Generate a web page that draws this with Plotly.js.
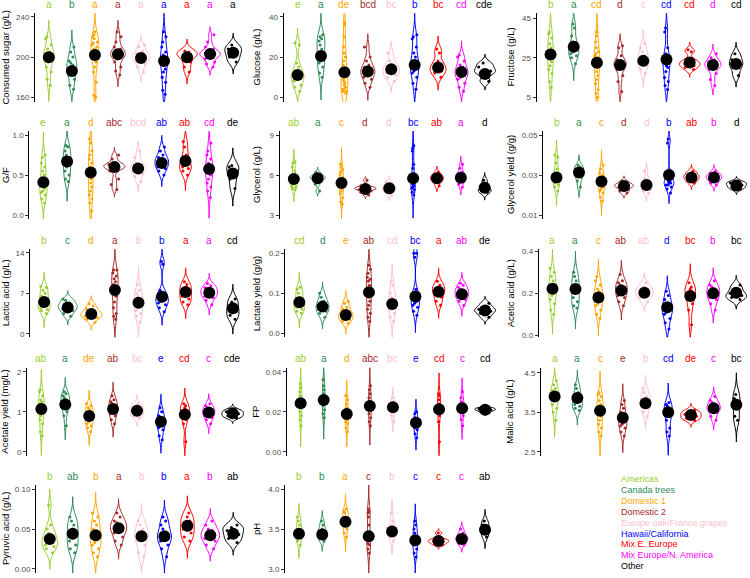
<!DOCTYPE html>
<html><head><meta charset="utf-8">
<script src="https://cdn.plot.ly/plotly-3.0.1.min.js"></script>
<style>html,body{margin:0;padding:0;background:#fff}#chart{width:750px;height:578px}</style>
</head><body><div id="chart"></div>
<script>
const groups = ['Americas','Canada trees','Domestic 1','Domestic 2','Europe oak/France grapes','Hawaii/California','Mix E. Europe','Mix Europe/N. America','Other'];
const colors = ['#9ACD32','#2E8B57','#FFA500','#A52A2A','#FFC0CB','#0000FF','#FF0000','#FF00FF','#000000'];

// ---- Consumed sugar (g/L)
const sugar = [
 [172,178,185,190,195,198,200,200,202,204,205,208,212,218,220],
 [168,172,178,182,185,188,190,192,194,196,200,205,210],
 [160,162,175,185,190,195,198,200,202,205,207,208,210,212,214,215,218,220,222,225],
 [182,186,190,195,198,200,201,202,203,204,205,206,208,210,215,220,225],
 [185,190,193,196,198,199,200,201,202,204,206,210,212],
 [163,167,175,180,185,188,192,195,197,199,200,202,205,210,215,220,225],
 [185,190,195,200,202,203,204,205,206],
 [190,193,195,198,200,201,202,203,203,204,205,206,208,210,215,222],
 [195,200,205,208,212]];
const sugarMean = [199.7,186,202,202.7,199,196,199.7,203,204.3];
const sugarLetters = ['a','b','a','a','a','a','a','a','a'];
const sugarTicks = [160,200,240], sugarTickText = ['160','200','240'];

// ---- Glucose (g/L)
const glucose = [
 [3,5,6,8,9,10,10,11,12,13,15,17,26,27],
 [10,12,15,17,18,20,22,24,26,28,29,30,31],
 [2,3,3,4,4,5,6,7,8,9,10,12,14,16,18,20,22,25,30,36,37],
 [5,7,9,10,11,12,13,13,14,15,16,18,20,25],
 [8,10,11,12,13,14,15,16,18,22],
 [4,7,10,12,13,14,15,16,17,18,20,22,25,29,30,31],
 [10,12,13,14,15,16,18,22,24],
 [3,5,7,9,10,11,12,12,13,14,15,16,18,20,21],
 [8,12,13,15,17]];
const glucoseMean = [11,20.5,12.4,12.8,13.9,16,14.8,12.5,11.5];
const glucoseLetters = ['e','a','de','bcd','bc','b','bc','cd','cde'];
const glucoseTicks = [0,20,40], glucoseTickText = ['0','20','40'];

// ---- Fructose (g/L)
const fructose = [
 [10,13,17,19,21,23,25,26,27,28,30,32,35,37,38],
 [22,25,26,27,28,29,30,31,33,36,40,42],
 [5,7,9,12,14,16,18,20,21,22,23,24,25,26,27,28,30,33,36,38],
 [8,13,16,19,20,21,22,22,23,24,26,30,31],
 [17,19,21,22,23,24,25,26,28,30,32],
 [9,11,13,15,18,20,21,22,23,24,25,27,30,38,40],
 [19,20,21,22,22,23,24,28,29],
 [11,14,17,19,20,21,21,22,22,23,24,25,27],
 [16,20,22,24,27]];
const fructoseMean = [26.6,30.5,22.4,21.3,23.4,24.1,22.6,21.3,21.8];
const fructoseLetters = ['b','a','cd','d','c','cd','cd','d','cd'];
const fructoseTicks = [5,25,45], fructoseTickText = ['5','25','45'];

// ---- G/F
const gf = [
 [0.15,0.2,0.25,0.28,0.3,0.33,0.35,0.38,0.4,0.45,0.5,0.55,0.6,0.65,0.72,0.75],
 [0.42,0.45,0.5,0.55,0.6,0.65,0.68,0.7,0.75,0.8,0.85,0.87],
 [0.05,0.15,0.2,0.25,0.3,0.35,0.4,0.45,0.5,0.5,0.55,0.6,0.65,0.7,0.75,0.8,0.9,0.95],
 [0.32,0.38,0.45,0.55,0.58,0.6,0.6,0.61,0.62,0.63,0.65,0.7,0.75],
 [0.42,0.48,0.52,0.55,0.57,0.58,0.6,0.62,0.65,0.72,0.8],
 [0.5,0.55,0.58,0.6,0.62,0.65,0.66,0.68,0.7,0.72,0.75,0.8,0.85],
 [0.5,0.55,0.58,0.6,0.62,0.65,0.7,0.75,0.85,0.92],
 [0.22,0.3,0.35,0.4,0.45,0.5,0.52,0.55,0.58,0.6,0.62,0.65,0.7,0.75,0.8,0.9],
 [0.33,0.45,0.55,0.6,0.62]];
const gfMean = [0.41,0.67,0.53,0.6,0.58,0.65,0.675,0.575,0.52];
const gfLetters = ['e','a','d','abc','bcd','ab','ab','cd','de'];
const gfTicks = [0,0.5,1], gfTickText = ['0.0','0.5','1.0'];

// ---- Glycerol (g/L)
const glycerol = [
 [4.9,5.0,5.1,5.2,5.3,5.4,5.5,5.5,5.6,5.7,5.8,6.0,6.3,6.6,6.9,7.0],
 [4.8,5.3,5.6,5.7,5.8,5.8,5.9,6.0,6.2],
 [3.8,4.0,4.3,4.6,4.8,5.0,5.1,5.2,5.3,5.4,5.5,5.6,5.8,6.0,6.2,6.4,6.6,6.8],
 [4.5,4.7,4.8,4.9,4.95,5.0,5.0,5.05,5.1,5.2,5.6],
 [4.5,4.7,4.8,4.9,5.0,5.0,5.1,5.2,5.3,5.5],
 [4.5,4.7,4.9,5.0,5.1,5.2,5.3,5.4,5.5,5.7,6.0,6.5,6.8,7.8,8.0,8.2],
 [5.2,5.5,5.6,5.7,5.8,5.9,6.0,6.2],
 [5.1,5.3,5.5,5.6,5.7,5.8,5.8,5.9,6.0,6.1,6.2,6.5,6.8],
 [4.7,4.8,4.9,5.2,5.6]];
const glycerolMean = [5.7,5.75,5.4,4.95,5.0,5.75,5.75,5.8,5.05];
const glycerolLetters = ['ab','a','c','d','d','bc','ab','a','d'];
const glycerolTicks = [3,6,9], glycerolTickText = ['3','6','9'];

// ---- Glycerol yield (g/g)
const glyYield = [
 [0.022,0.024,0.025,0.026,0.027,0.028,0.028,0.029,0.03,0.031,0.033,0.036,0.039,0.04],
 [0.024,0.027,0.029,0.03,0.031,0.032,0.033,0.034,0.035],
 [0.017,0.019,0.021,0.022,0.023,0.024,0.025,0.026,0.026,0.027,0.028,0.029,0.03,0.031,0.033,0.035],
 [0.021,0.022,0.023,0.024,0.0245,0.025,0.025,0.026,0.027],
 [0.021,0.022,0.023,0.024,0.025,0.025,0.026,0.027,0.028,0.032],
 [0.021,0.023,0.024,0.025,0.025,0.026,0.026,0.027,0.027,0.028,0.029,0.03,0.032,0.046,0.048],
 [0.026,0.027,0.028,0.029,0.029,0.03,0.031,0.032],
 [0.025,0.026,0.027,0.028,0.028,0.029,0.029,0.03,0.03,0.031,0.032],
 [0.023,0.024,0.025,0.026,0.0265]];
const glyYieldMean = [0.0288,0.0312,0.0267,0.0245,0.025,0.03,0.0288,0.0287,0.0247];
const glyYieldLetters = ['b','a','c','d','d','b','ab','b','d'];
const glyYieldTicks = [0.01,0.03,0.05], glyYieldTickText = ['0.01','0.03','0.05'];

// ---- Lactic acid (g/L)
const lactic = [
 [3.5,4,4.2,4.5,4.7,5,5.2,5.5,6,6.5,7,7.5,8,8.2],
 [3,3.5,4,4.3,4.5,4.8,5,5.3,5.8,6],
 [2,2.5,2.8,3,3.2,3.3,3.5,3.7,4,4.3,4.8,5.2],
 [2.5,3,3.5,4.5,5.5,6.5,7,7.5,8,8.5,9,9.5,10,10.5,11,11],
 [2,3,3.5,4,4.5,5,5.5,6,6.5,7,7.5,8.5],
 [3.8,4.5,5,5.3,5.6,6,6.2,6.5,7,7.5,12,12.5],
 [5,5.5,6,6.5,7,7.5,8,8.5,9],
 [5,5.8,6.2,6.5,6.8,7,7.2,7.5,7.8,8,8.3,8.7],
 [2.5,3.2,3.8,4.5,5.5,6]];
const lacticMean = [5.5,4.55,3.4,7.55,5.35,6.4,7.2,7.1,4.4];
const lacticLetters = ['b','c','d','a','b','b','a','a','cd'];
const lacticTicks = [0,7,14], lacticTickText = ['0','7','14'];

// ---- Lactate yield (g/g)
const lactYield = [
 [0.05,0.055,0.06,0.065,0.07,0.075,0.08,0.09,0.1,0.11,0.115],
 [0.04,0.05,0.055,0.06,0.065,0.07,0.075,0.08,0.09,0.1],
 [0.025,0.03,0.035,0.038,0.04,0.043,0.045,0.05,0.055,0.06,0.065,0.075,0.08],
 [0.03,0.04,0.05,0.06,0.07,0.08,0.09,0.1,0.105,0.11,0.12,0.13,0.135,0.14,0.15,0.16,0.17],
 [0.03,0.04,0.05,0.06,0.07,0.075,0.08,0.085,0.09,0.1,0.12,0.13],
 [0.045,0.055,0.065,0.07,0.075,0.08,0.085,0.09,0.095,0.1,0.11,0.19,0.2,0.2],
 [0.07,0.08,0.09,0.1,0.105,0.11,0.115,0.12,0.13],
 [0.07,0.08,0.085,0.09,0.095,0.1,0.1,0.105,0.11,0.115,0.12,0.125],
 [0.04,0.05,0.055,0.06,0.065,0.075]];
const lactYieldMean = [0.0775,0.0667,0.046,0.1025,0.073,0.092,0.104,0.0975,0.057];
const lactYieldLetters = ['cd','d','e','ab','cd','bc','a','ab','de'];
const lactYieldTicks = [0,0.1,0.2], lactYieldTickText = ['0.0','0.1','0.2'];

// ---- Acetic acid (g/L)
const acetic = [
 [0.1,0.12,0.15,0.17,0.19,0.2,0.21,0.22,0.23,0.24,0.26,0.28,0.3,0.32],
 [0.13,0.14,0.16,0.18,0.2,0.22,0.24,0.26,0.28,0.3],
 [0.08,0.1,0.12,0.14,0.15,0.16,0.17,0.18,0.19,0.2,0.21,0.22,0.24,0.26,0.28],
 [0.14,0.16,0.18,0.19,0.2,0.21,0.22,0.23,0.24,0.25,0.26,0.29],
 [0.16,0.18,0.19,0.2,0.21,0.22,0.23,0.25],
 [0.03,0.06,0.08,0.1,0.11,0.12,0.13,0.14,0.15,0.17,0.19,0.21],
 [0.05,0.12,0.15,0.18,0.2,0.21,0.22,0.23,0.25],
 [0.12,0.15,0.17,0.18,0.19,0.2,0.21,0.22,0.23,0.24,0.26],
 [0.17,0.18,0.19,0.2,0.22,0.24]];
const aceticMean = [0.222,0.22,0.18,0.213,0.203,0.133,0.187,0.2,0.203];
const aceticLetters = ['a','a','c','ab','ab','d','bc','b','bc'];
const aceticTicks = [0,0.2,0.4], aceticTickText = ['0.0','0.2','0.4'];

// ---- Acetate yield (mg/L)
const acetYield = [
 [0.4,0.5,0.7,0.8,0.9,1.0,1.05,1.1,1.15,1.2,1.25,1.3,1.4,1.5,1.55],
 [0.65,0.9,1.0,1.1,1.15,1.2,1.25,1.3,1.35,1.4,1.45,1.5],
 [0.5,0.6,0.65,0.7,0.75,0.8,0.85,0.9,0.95,1.0,1.05,1.1,1.15,1.2],
 [0.7,0.8,0.9,0.95,1.0,1.05,1.1,1.15,1.2,1.25,1.3,1.4],
 [0.85,0.9,0.95,1.0,1.05,1.1,1.15,1.2],
 [0.3,0.4,0.55,0.6,0.65,0.7,0.75,0.8,0.85,0.9,1.0,1.1],
 [0.25,0.7,0.8,0.9,1.0,1.05,1.1,1.15,1.2],
 [0.7,0.8,0.85,0.9,0.95,1.0,1.0,1.05,1.1,1.15,1.2],
 [0.85,0.9,0.95,1.0,1.05]];
const acetYieldMean = [1.067,1.18,0.89,1.067,1.025,0.75,0.93,0.98,0.96];
const acetYieldLetters = ['ab','a','de','ab','bc','e','cd','c','cde'];
const acetYieldTicks = [0,1,2], acetYieldTickText = ['0','1','2'];

// ---- FP
const fp = [
 [0.013,0.016,0.018,0.02,0.022,0.024,0.025,0.026,0.028,0.03,0.032,0.034],
 [0.017,0.019,0.021,0.023,0.025,0.027,0.029,0.031,0.033,0.036],
 [0.01,0.012,0.014,0.015,0.016,0.017,0.018,0.019,0.02,0.021,0.022,0.024,0.026,0.028],
 [0.013,0.015,0.017,0.019,0.021,0.022,0.023,0.024,0.025,0.027,0.029,0.031,0.033],
 [0.015,0.018,0.02,0.021,0.022,0.023,0.024,0.025,0.027],
 [0.007,0.009,0.011,0.012,0.013,0.014,0.015,0.016,0.017,0.019,0.02],
 [0.005,0.015,0.018,0.02,0.022,0.024,0.026,0.028,0.029],
 [0.013,0.016,0.018,0.02,0.021,0.022,0.023,0.024,0.025,0.027,0.03],
 [0.0195,0.0205,0.021,0.0215,0.022]];
const fpMean = [0.0242,0.0258,0.0188,0.0228,0.0222,0.0145,0.0212,0.0217,0.021];
const fpLetters = ['ab','a','d','abc','bc','e','cd','c','cd'];
const fpTicks = [0,0.02,0.04], fpTickText = ['0.00','0.02','0.04'];

// ---- Malic acid (g/L)
const malic = [
 [3.3,3.5,3.6,3.7,3.8,3.85,3.9,3.95,4.0,4.05,4.1,4.2,4.3],
 [3.55,3.6,3.65,3.7,3.75,3.8,3.9,4.0,4.1,4.2],
 [2.9,3.0,3.1,3.2,3.3,3.4,3.5,3.55,3.6,3.65,3.7,3.8,3.9,3.95,4.0],
 [2.9,3.0,3.1,3.15,3.2,3.25,3.3,3.35,3.4,3.5,3.6,3.7,3.8],
 [3.4,3.5,3.6,3.7,3.75,3.8,3.85,3.9,4.0,4.1],
 [2.9,3.0,3.1,3.3,3.4,3.5,3.55,3.6,3.65,3.7,3.75],
 [3.3,3.35,3.4,3.45,3.5,3.55],
 [3.3,3.4,3.5,3.55,3.6,3.6,3.65,3.7,3.75,3.8,3.9],
 [3.3,3.4,3.7,3.85,3.95]];
const malicMean = [3.9,3.86,3.54,3.36,3.73,3.5,3.43,3.6,3.69];
const malicLetters = ['a','a','c','e','b','cd','de','c','bc'];
const malicTicks = [2.5,3.5,4.5], malicTickText = ['2.5','3.5','4.5'];

// ---- Pyruvic acid (g/L)
const pyruvic = [
 [0.02,0.025,0.028,0.03,0.033,0.035,0.038,0.04,0.045,0.05,0.055,0.08],
 [0.02,0.025,0.03,0.035,0.04,0.045,0.05,0.055,0.06,0.065],
 [0.015,0.02,0.025,0.03,0.033,0.036,0.04,0.042,0.045,0.05,0.055,0.06,0.065,0.07],
 [0.03,0.035,0.04,0.045,0.048,0.05,0.052,0.055,0.058,0.06,0.065,0.07],
 [0.015,0.02,0.03,0.035,0.04,0.042,0.045,0.05,0.055,0.06],
 [0.015,0.025,0.03,0.035,0.038,0.04,0.042,0.045,0.05,0.055,0.06,0.065],
 [0.035,0.04,0.045,0.05,0.055,0.06,0.065,0.07],
 [0.025,0.03,0.035,0.038,0.04,0.042,0.045,0.048,0.05,0.055,0.06],
 [0.033,0.038,0.043,0.048,0.052,0.055]];
const pyruvicMean = [0.0375,0.044,0.042,0.051,0.041,0.041,0.054,0.042,0.044];
const pyruvicLetters = ['b','ab','b','a','b','b','a','b','ab'];
const pyruvicTicks = [0,0.05,0.1], pyruvicTickText = ['0.00','0.05','0.10'];

// ---- pH
const ph = [
 [3.3,3.35,3.4,3.42,3.45,3.47,3.5,3.55,3.6,3.65],
 [3.35,3.38,3.4,3.42,3.45,3.48,3.5,3.55,3.6],
 [3.4,3.45,3.5,3.55,3.58,3.6,3.62,3.65,3.7,3.72,3.75],
 [3.2,3.25,3.3,3.32,3.35,3.4,3.45,3.55,3.65,3.7,3.72,3.75],
 [3.35,3.4,3.42,3.45,3.48,3.5,3.55,3.6,3.7],
 [3.15,3.2,3.25,3.3,3.32,3.35,3.38,3.4,3.45,3.5,3.55,3.6],
 [3.3,3.32,3.34,3.35,3.36,3.38,3.45],
 [3.3,3.32,3.35,3.37,3.38,3.4,3.42,3.45,3.5],
 [3.4,3.45,3.5,3.55,3.6]];
const phMean = [3.44,3.43,3.59,3.41,3.47,3.36,3.35,3.375,3.49];
const phLetters = ['b','b','a','c','b','c','c','c','ab'];
const phTicks = [3,3.5,4], phTickText = ['3.0','3.5','4.0'];

// ---------- panel table (built from the arrays above) ----------
const panels = [
 {t:'Consumed sugar (g/L)', v:sugar, m:sugarMean, l:sugarLetters, tv:sugarTicks, tt:sugarTickText, r:[155.6,243.4], box:[35,247,13.3,101.7], tx:5},
 {t:'Glucose (g/L)', v:glucose, m:glucoseMean, l:glucoseLetters, tv:glucoseTicks, tt:glucoseTickText, r:[-2.2,41.7], box:[283.5,499,13.3,101.7], tx:256},
 {t:'Fructose (g/L)', v:fructose, m:fructoseMean, l:fructoseLetters, tv:fructoseTicks, tt:fructoseTickText, r:[2.8,47.4], box:[536.6,750,13.3,101.7], tx:510},
 {t:'G/F', v:gf, m:gfMean, l:gfLetters, tv:gfTicks, tt:gfTickText, r:[-0.05,1.05], box:[29.2,247,131,219], tx:5},
 {t:'Glycerol (g/L)', v:glycerol, m:glycerolMean, l:glycerolLetters, tv:glycerolTicks, tt:glycerolTickText, r:[2.7,9.3], box:[279.5,499,131,219], tx:256},
 {t:'Glycerol yield (g/g)', v:glyYield, m:glyYieldMean, l:glyYieldLetters, tv:glyYieldTicks, tt:glyYieldTickText, r:[0.008,0.052], box:[543,750,131,219], tx:510},
 {t:'Lactic acid (g/L)', v:lactic, m:lacticMean, l:lacticLetters, tv:lacticTicks, tt:lacticTickText, r:[-0.62,14.6], box:[30,247,249.3,337.3], tx:5},
 {t:'Lactate yield (g/g)', v:lactYield, m:lactYieldMean, l:lactYieldLetters, tv:lactYieldTicks, tt:lactYieldTickText, r:[-0.01,0.21], box:[285.4,499,249.3,337.3], tx:256},
 {t:'Acetic acid (g/L)', v:acetic, m:aceticMean, l:aceticLetters, tv:aceticTicks, tt:aceticTickText, r:[-0.01,0.41], box:[538.7,750,249.3,337.3], tx:510},
 {t:'Acetate yield (mg/L)', v:acetYield, m:acetYieldMean, l:acetYieldLetters, tv:acetYieldTicks, tt:acetYieldTickText, r:[-0.1,2.1], box:[27,247,367.7,455.7], tx:5},
 {t:'FP', v:fp, m:fpMean, l:fpLetters, tv:fpTicks, tt:fpTickText, r:[-0.002,0.042], box:[286.8,499,367.7,455.7], tx:256},
 {t:'Malic acid (g/L)', v:malic, m:malicMean, l:malicLetters, tv:malicTicks, tt:malicTickText, r:[2.4,4.63], box:[541,750,367.7,455.7], tx:510},
 {t:'Pyruvic acid (g/L)', v:pyruvic, m:pyruvicMean, l:pyruvicLetters, tv:pyruvicTicks, tt:pyruvicTickText, r:[-0.0054,0.1054], box:[36,247,485,573], tx:5},
 {t:'pH', v:ph, m:phMean, l:phLetters, tv:phTicks, tt:phTickText, r:[2.95,4.05], box:[285,499,485,573], tx:256}
];

// ---------- ggplot-like violin helpers (bw.nrd0, trim = FALSE, scale = "area") ----------
function quant(s,p){const h=(s.length-1)*p,lo=Math.floor(h),hi=Math.min(lo+1,s.length-1);return s[lo]+(h-lo)*(s[hi]-s[lo]);}
function bwNrd0(v){
  const n=v.length,s=[...v].sort((a,b)=>a-b),mu=v.reduce((a,b)=>a+b,0)/n;
  const sd=Math.sqrt(v.reduce((a,b)=>a+(b-mu)*(b-mu),0)/(n-1));
  const iqr=quant(s,0.75)-quant(s,0.25);
  let lo=Math.min(sd,iqr/1.34); if(!(lo>0)) lo=sd||Math.abs(s[0])||1;
  return 0.9*lo*Math.pow(n,-0.2);
}
function maxDens(v,bw,a,b){
  let m=0;
  for(let k=0;k<=300;k++){const x=a+(b-a)*k/300;let d=0;for(const xi of v){const z=(x-xi)/bw;d+=Math.exp(-0.5*z*z);}
    d/=v.length*bw*Math.sqrt(2*Math.PI); if(d>m)m=d;}
  return m;
}

const W=750,H=578;
const traces=[], annotations=[];
const layout={width:W,height:H,margin:{l:0,r:0,t:0,b:0},paper_bgcolor:'#fff',plot_bgcolor:'rgba(0,0,0,0)',
  showlegend:false,violinmode:'overlay',violingap:0,violingroupgap:0,
  font:{family:'Liberation Sans, Arial, Helvetica, sans-serif',color:'#000'},annotations:annotations};

panels.forEach((p,k)=>{
  const sfx=k?String(k+1):'';
  const xa='x'+sfx, ya='y'+sfx;
  const [l,r,t,b]=p.box;
  layout['xaxis'+sfx]={domain:[l/W,r/W],anchor:ya,range:[0.4,9.6],type:'linear',visible:false,fixedrange:true};
  layout['yaxis'+sfx]={domain:[1-b/H,1-t/H],anchor:xa,range:p.r,tickvals:p.tv,ticktext:p.tt,
    showline:true,linecolor:'#000',linewidth:1,ticks:'outside',ticklen:3,tickwidth:1,tickcolor:'#333',
    tickfont:{size:8,color:'#4D4D4D'},showgrid:false,zeroline:false,fixedrange:true};
  const st=p.v.map(v=>{const bw=bwNrd0(v);const lo=Math.min(...v)-3*bw,hi=Math.max(...v)+3*bw;return {bw,lo,hi,md:maxDens(v,bw,lo,hi)};});
  const mdMax=Math.max(...st.map(s=>s.md));
  p.v.forEach((v,i)=>{
    traces.push({type:'violin',x0:i+1,y:v,xaxis:xa,yaxis:ya,name:groups[i],showlegend:false,
      bandwidth:st[i].bw,spanmode:'manual',span:[st[i].lo,st[i].hi],scalemode:'width',width:0.9*st[i].md/mdMax,
      line:{color:colors[i],width:1},fillcolor:'rgba(0,0,0,0)',points:'all',pointpos:0,jitter:0.7,
      marker:{color:colors[i],size:3,line:{width:0}},box:{visible:false},meanline:{visible:false},hoverinfo:'y'});
  });
  traces.push({type:'scatter',mode:'markers',x:groups.map((g,i)=>i+1),y:p.m,xaxis:xa,yaxis:ya,
    marker:{color:'#000',size:12},showlegend:false,hoverinfo:'y'});
  p.l.forEach((txt,i)=>annotations.push({x:i+1,xref:xa,y:1+9/88,yref:ya+' domain',text:txt,showarrow:false,
    yanchor:'middle',font:{size:10,color:colors[i]}}));
  annotations.push({x:p.tx/W,xref:'paper',y:1-(t+b)/2/H,yref:'paper',text:p.t,textangle:-90,showarrow:false,
    xanchor:'center',yanchor:'middle',font:{size:9.5,color:'#000'}});
});

groups.forEach((g,i)=>annotations.push({x:619/W,xref:'paper',y:1-(479+i*10.9)/H,yref:'paper',text:g,showarrow:false,
  xanchor:'left',yanchor:'middle',font:{size:9,color:colors[i]}}));

Plotly.newPlot('chart',traces,layout,{displayModeBar:false,staticPlot:true});
</script></body></html>
